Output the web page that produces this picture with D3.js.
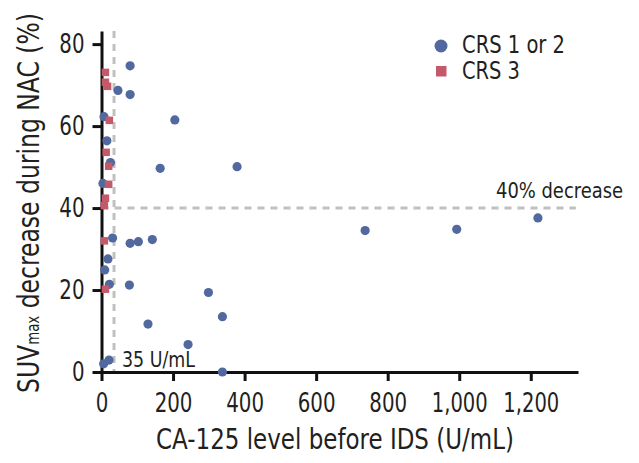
<!DOCTYPE html>
<html>
<head>
<meta charset="utf-8">
<script src="https://cdn.jsdelivr.net/npm/d3@7"></script>
<style>
  html, body { margin: 0; padding: 0; background: #fff; }
  svg text { font-family: "Liberation Sans Narrow", "Arial Narrow", "DejaVu Sans Condensed", "Roboto Condensed", "Liberation Sans", sans-serif; fill: #231f20; }
</style>
</head>
<body>
<svg id="chart" width="639" height="463"></svg>
<script>
// ---- data ----
const crs12X = [80, 46, 80, 7, 205, 15, 25, 164, 379, 4, 31, 80, 103, 142, 18, 9, 22, 78, 299, 338, 130, 242, 6, 21, 338, 737, 993, 1220];
const crs12Y = [74.7, 68.7, 67.7, 62.3, 61.5, 56.4, 51.1, 49.7, 50.1, 46, 32.7, 31.4, 31.8, 32.3, 27.6, 24.9, 21.4, 21.2, 19.4, 13.5, 11.7, 6.7, 2, 2.9, 0, 34.5, 34.8, 37.6];
const crs3X = [11, 11, 17, 22, 13, 20, 20, 11, 8, 8, 11];
const crs3Y = [73.1, 70.7, 69.7, 61.4, 53.6, 50.2, 45.8, 42.4, 40.6, 32, 20.2];
const xTicks = [0, 200, 400, 600, 800, 1000, 1200];
const yTicks = [0, 20, 40, 60, 80];
const seriesNames = ["CRS 1 or 2", "CRS 3"];
const cutoffX = 35;      // U/mL
const cutoffY = 40;      // % decrease
const xLabel = "CA-125 level before IDS (U/mL)";
const yLabelMain = "SUV";
const yLabelSub = "max";
const yLabelRest = " decrease during NAC (%)";

const blue = "#52699f", red = "#c45a69";

const svg = d3.select("#chart");
const x = d3.scaleLinear().domain([0, 1332]).range([101.5, 578]);
const y = d3.scaleLinear().domain([0, 83.2]).range([372, 31]);

// condensed look: squeeze text to the widths seen in the reference
function fit(sel, w) {
  sel.attr("textLength", w).attr("lengthAdjust", "spacingAndGlyphs");
}
function labelWidth(str) {
  let w = 0;
  for (const c of str) w += (c === "," ? 5.5 : 12.6);
  return w;
}

// reference lines
const dash = "7,6";
svg.append("line")
  .attr("x1", x(cutoffX)).attr("x2", x(cutoffX))
  .attr("y1", y(83.2)).attr("y2", y(0))
  .attr("stroke", "#c0c0c0").attr("stroke-width", 3).attr("stroke-dasharray", dash);
svg.append("line")
  .attr("x1", x(0)).attr("x2", x(1326))
  .attr("y1", y(cutoffY)).attr("y2", y(cutoffY))
  .attr("stroke", "#c0c0c0").attr("stroke-width", 3).attr("stroke-dasharray", dash);

// axes
const xAxis = svg.append("g").attr("transform", `translate(0,${y(0)})`)
  .call(d3.axisBottom(x).tickValues(xTicks).tickFormat(d3.format(",")).tickSize(9).tickSizeOuter(0).tickPadding(12));
const yAxis = svg.append("g").attr("transform", `translate(${x(0)},0)`)
  .call(d3.axisLeft(y).tickValues(yTicks).tickSize(9).tickSizeOuter(0).tickPadding(8));
[xAxis, yAxis].forEach(g => {
  g.attr("font-family", null).attr("font-size", null);
  g.select(".domain").attr("stroke", "#111").attr("stroke-width", 3);
  g.selectAll(".tick line").attr("stroke", "#111").attr("stroke-width", 3);
  g.selectAll(".tick text").style("font-size", "27px").attr("fill", "#231f20")
    .each(function () { fit(d3.select(this), labelWidth(this.textContent)); });
});

// points
svg.append("g").selectAll("circle").data(crs12X.map((v, i) => [v, crs12Y[i]]))
  .join("circle")
  .attr("cx", d => x(d[0])).attr("cy", d => y(d[1])).attr("r", 4.6).attr("fill", blue);
const s = 7.5;
svg.append("g").selectAll("rect").data(crs3X.map((v, i) => [v, crs3Y[i]]))
  .join("rect")
  .attr("x", d => x(d[0]) - s / 2).attr("y", d => y(d[1]) - s / 2)
  .attr("width", s).attr("height", s).attr("fill", red);

// annotations
fit(svg.append("text").attr("x", 496).attr("y", 198)
  .style("font-size", "21px").text("40% decrease"), 127);
fit(svg.append("text").attr("x", 122).attr("y", 366.5)
  .style("font-size", "22px").text("35 U/mL"), 73);

// legend
svg.append("circle").attr("cx", 441).attr("cy", 46).attr("r", 6.5).attr("fill", blue);
svg.append("rect").attr("x", 436).attr("y", 66).attr("width", 10.5).attr("height", 10.5).attr("fill", red);
fit(svg.append("text").attr("x", 462).attr("y", 52.5).style("font-size", "24px").text(seriesNames[0]), 103);
fit(svg.append("text").attr("x", 462).attr("y", 78.5).style("font-size", "24px").text(seriesNames[1]), 58);

// axis titles
fit(svg.append("text").attr("x", 156).attr("y", 449)
  .style("font-size", "29px").text(xLabel), 358);
const yt = svg.append("text").attr("transform", "translate(39,393) rotate(-90)")
  .style("font-size", "30px");
yt.append("tspan").text(yLabelMain);
yt.append("tspan").style("font-size", "17px").text(yLabelSub);
yt.append("tspan").text(yLabelRest);
fit(yt, 380);
</script>
</body>
</html>
